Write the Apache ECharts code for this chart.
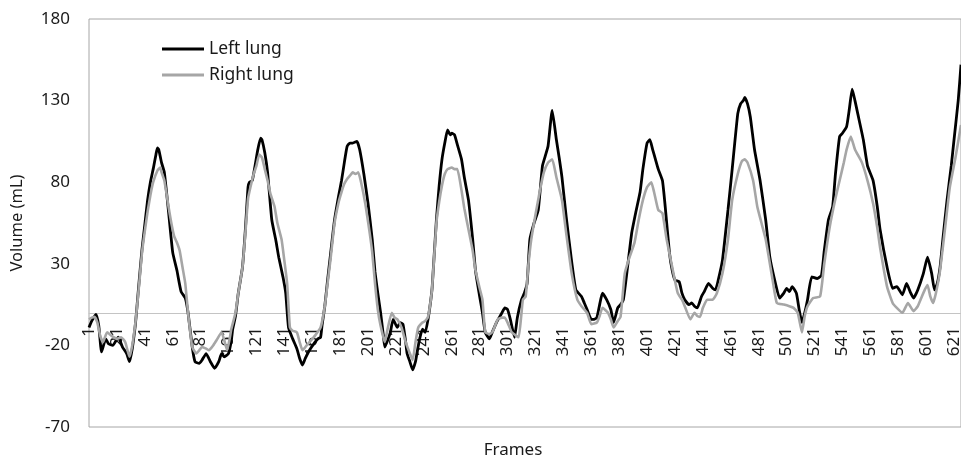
<!DOCTYPE html>
<html>
<head>
<meta charset="utf-8">
<script src="https://cdn.jsdelivr.net/npm/echarts@6/dist/echarts.min.js"></script>
<style>
  html, body { margin: 0; padding: 0; background: #fff; }
  #chart { width: 961px; height: 461px; }
</style>
</head>
<body>
<div id="chart"></div>
<script>
// frame labels 1..626
const frames = Array.from({ length: 626 }, (_, i) => String(i + 1));
const yTicks = [-70, -20, 30, 80, 130, 180];

// [frame, volume mL]
const leftLung = [
  [1,-9],[3,-5],[6,-1],[8,-8],[10,-24],[13,-16],[15,-19],[18,-20],[22,-15],[25,-21],[28,-25],[30,-30],[32,-22],[34,-9],
  [35,0],[37,20],[39,39],[41,54],[43,69],[45,80],[47,88],[49,97],[50,101],[51,100],[53,92],[55,86],[58,62],[61,37],
  [64,26],[67,13],[70,9],[72,0],[75,-21],[77,-30],[80,-31],[82,-29],[85,-25],[88,-30],[91,-34],[94,-30],[96,-25],
  [98,-27],[101,-25],[103,-17],[104,-10],[106,-2],[108,12],[111,28],[113,50],[115,77],[116,80],[118,81],[120,90],
  [122,100],[124,107],[125,106],[127,98],[129,86],[132,57],[135,44],[137,34],[140,22],[142,12],[144,-9],[147,-16],
  [150,-22],[152,-28],[154,-32],[156,-28],[159,-23],[163,-18],[165,-16],[167,-15],[168,-8],[170,4],[172,20],[174,35],
  [177,57],[180,72],[182,81],[184,92],[186,102],[188,104],[190,104],[193,105],[195,100],[198,85],[201,67],[204,45],
  [206,25],[208,12],[210,0],[212,-14],[213,-21],[215,-17],[217,-12],[219,-4],[222,-9],[224,-6],[226,-7],[228,-18],
  [229,-25],[231,-30],[233,-35],[235,-30],[236,-25],[238,-16],[240,-10],[242,-12],[244,-4],[246,8],[247,16],[250,57],
  [252,78],[254,94],[256,104],[258,112],[260,109],[261,110],[263,109],[265,103],[268,94],[270,83],[273,69],[276,45],
  [278,26],[280,15],[281,10],[283,0],[285,-12],[288,-16],[290,-12],[293,-6],[295,-3],[297,0],[299,3],[301,2],
  [303,-4],[306,-15],[308,-3],[311,8],[313,12],[315,18],[317,45],[320,55],[323,63],[326,90],[328,96],[330,102],
  [333,124],[336,106],[338,95],[340,83],[343,59],[347,31],[350,14],[354,10],[356,6],[358,2],[361,-4],[363,-4],
  [365,-3],[367,5],[369,12],[372,8],[375,2],[377,-6],[380,3],[382,5],[384,8],[387,28],[390,49],[393,62],[396,74],
  [398,88],[401,104],[403,106],[405,100],[407,94],[409,88],[412,81],[414,65],[417,37],[419,26],[421,20],[424,19],
  [426,12],[428,8],[431,5],[433,6],[435,4],[437,3],[440,10],[442,13],[445,18],[448,15],[450,14],[452,20],[455,32],
  [459,63],[462,88],[466,122],[468,128],[470,130],[471,132],[473,128],[475,120],[478,100],[482,81],[486,57],[489,34],
  [493,18],[496,9],[499,12],[501,15],[503,13],[505,16],[508,12],[510,2],[512,-6],[514,0],[516,8],[519,22],[523,21],
  [526,23],[528,38],[531,57],[534,65],[536,85],[539,108],[541,110],[544,114],[546,125],[548,137],[550,130],[552,122],
  [556,106],[559,90],[563,81],[566,65],[568,51],[573,28],[577,15],[580,16],[584,11],[587,18],[590,12],[592,9],
  [595,14],[599,24],[602,34],[605,24],[607,14],[609,18],[611,28],[613,45],[616,69],[619,90],[621,106],[624,130],[626,152]
];

const rightLung = [
  [1,-4],[3,-3],[5,-2.5],[7,-6],[9,-14],[11,-18],[14,-12],[17,-14],[21,-16],[24,-15],[27,-18],[30,-27],[32,-20],
  [34,-8],[35,0],[37,18],[39,37],[41,50],[43,62],[45,72],[47,80],[50,87],[52,89],[53,86],[55,81],[58,65],[60,55],
  [62,47],[64,43],[66,38],[68,28],[70,18],[72,0],[75,-21],[78,-25],[80,-23],[82,-21],[85,-22],[87,-23],[90,-20],
  [93,-16],[96,-12],[98,-17],[100,-23],[102,-15],[103,-10],[106,0],[108,12],[111,28],[113,48],[115,70],[117,78],
  [119,85],[121,90],[123,97],[125,95],[127,88],[129,81],[131,73],[134,65],[136,55],[139,45],[141,32],[143,18],
  [145,-9],[147,-11],[150,-12],[152,-18],[154,-23],[157,-20],[159,-18],[163,-14],[167,-9],[170,4],[172,18],[174,32],
  [177,55],[180,68],[182,74],[184,79],[186,82],[188,84],[190,86],[192,85],[194,86],[196,80],[199,67],[202,50],
  [204,37],[206,18],[208,2],[210,-8],[213,-18],[215,-10],[218,0],[220,-3],[222,-4],[225,-9],[228,-18],[231,-25],
  [233,-29],[235,-18],[237,-9],[240,-6],[242,-5],[244,-2.5],[246,8],[247,16],[250,55],[252,68],[254,78],[256,85],
  [258,88],[261,89],[263,88],[265,88],[268,75],[270,64],[273,51],[276,38],[278,26],[281,15],[283,8],[285,-12],
  [288,-13],[290,-12],[292,-8],[294,-4],[297,-3],[299,-3],[302,-8],[304,-12],[307,-14],[309,-15],[311,0],[312,8],
  [314,10],[316,30],[318,45],[321,60],[324,74],[327,86],[330,92],[333,94],[336,83],[340,69],[343,49],[347,24],
  [351,8],[354,4],[358,0],[361,-7],[365,-6],[367,-2],[369,3],[373,0],[375,-4],[377,-9],[380,-5],[382,-2.5],
  [385,24],[388,33],[392,43],[395,57],[398,69],[401,77],[404,80],[406,74],[409,63],[412,61],[415,45],[419,28],
  [423,12],[426,8],[428,4],[432,-4],[435,0],[437,-2],[439,-2.5],[441,3],[444,8],[448,8],[451,12],[455,24],[459,45],
  [462,69],[466,85],[469,93],[471,94],[473,92],[477,81],[480,65],[483,55],[486,45],[491,20],[494,6],[499,5],[503,4],
  [506,3],[509,0],[512,-12],[514,-2],[516,4],[520,9],[525,10],[528,30],[532,53],[536,70],[539,81],[542,92],[544,100],
  [547,108],[550,100],[555,92],[559,81],[563,67],[566,52],[568,40],[573,16],[577,6],[580,3],[584,0],[588,6],[592,1],
  [595,4],[597,8],[600,14],[602,17],[604,10],[606,6],[608,12],[611,26],[615,55],[618,77],[622,95],[626,115]
];

const FONT = "Noto Sans";
const toIdx = (pts) => pts.map(([f, v]) => [f - 1, v]);

// plot box: top 19, bottom 427 -> zero line sits 114px above the bottom edge
const GRID_TOP = 19, GRID_BOTTOM = 34;
const plotH = 461 - GRID_TOP - GRID_BOTTOM;
const zeroOffset = -Math.round(plotH * 70 / 250);

const chart = echarts.init(document.getElementById("chart"), null, { renderer: "canvas" });

chart.setOption({
  animation: false,
  backgroundColor: "#fff",
  textStyle: { fontFamily: FONT },
  grid: {
    left: 89, right: 0, top: GRID_TOP, bottom: GRID_BOTTOM,
    containLabel: false, outerBoundsMode: "none",
    show: true, borderColor: "#a6a6a6", borderWidth: 1, backgroundColor: "transparent"
  },
  legend: {
    orient: "vertical",
    left: 157, top: 35,
    icon: "rect",
    itemWidth: 42, itemHeight: 3, itemGap: 8, itemTextGap: 6,
    textStyle: { fontFamily: FONT, fontSize: 17.5, color: "#1a1a1a" },
    data: ["Left lung", "Right lung"]
  },
  xAxis: {
    type: "category",
    data: frames,
    boundaryGap: false,
    position: "bottom",
    offset: zeroOffset,
    axisLine: { onZero: false, lineStyle: { color: "#c4c4c4", width: 1 } },
    axisTick: { show: false },
    axisLabel: {
      interval: 19, rotate: 90, margin: 14,
      fontFamily: FONT, fontSize: 17, color: "#1a1a1a"
    },
    splitLine: { show: false }
  },
  yAxis: {
    type: "value",
    min: -70, max: 180,
    name: "Volume (mL)",
    nameLocation: "middle",
    nameGap: 63,
    nameTextStyle: { fontFamily: FONT, fontSize: 16.5, color: "#1a1a1a" },
    axisLine: { show: false },
    axisTick: { show: false },
    splitLine: { show: false },
    axisLabel: {
      customValues: yTicks,
      margin: 19,
      fontFamily: FONT, fontSize: 17, color: "#1a1a1a"
    }
  },
  graphic: [{
    type: "text",
    x: 513, y: 450,
    style: {
      text: "Frames", fontFamily: FONT, fontSize: 17, fill: "#1a1a1a",
      textAlign: "center", textVerticalAlign: "middle"
    }
  }],
  series: [
    {
      name: "Left lung",
      type: "line",
      data: toIdx(leftLung),
      symbol: "none",
      smooth: 0.15,
      lineStyle: { color: "#000", width: 2.8 },
      itemStyle: { color: "#000" }
    },
    {
      name: "Right lung",
      type: "line",
      data: toIdx(rightLung),
      symbol: "none",
      smooth: 0.15,
      lineStyle: { color: "#a6a6a6", width: 2.6 },
      itemStyle: { color: "#a6a6a6" }
    }
  ]
});
</script>
</body>
</html>
